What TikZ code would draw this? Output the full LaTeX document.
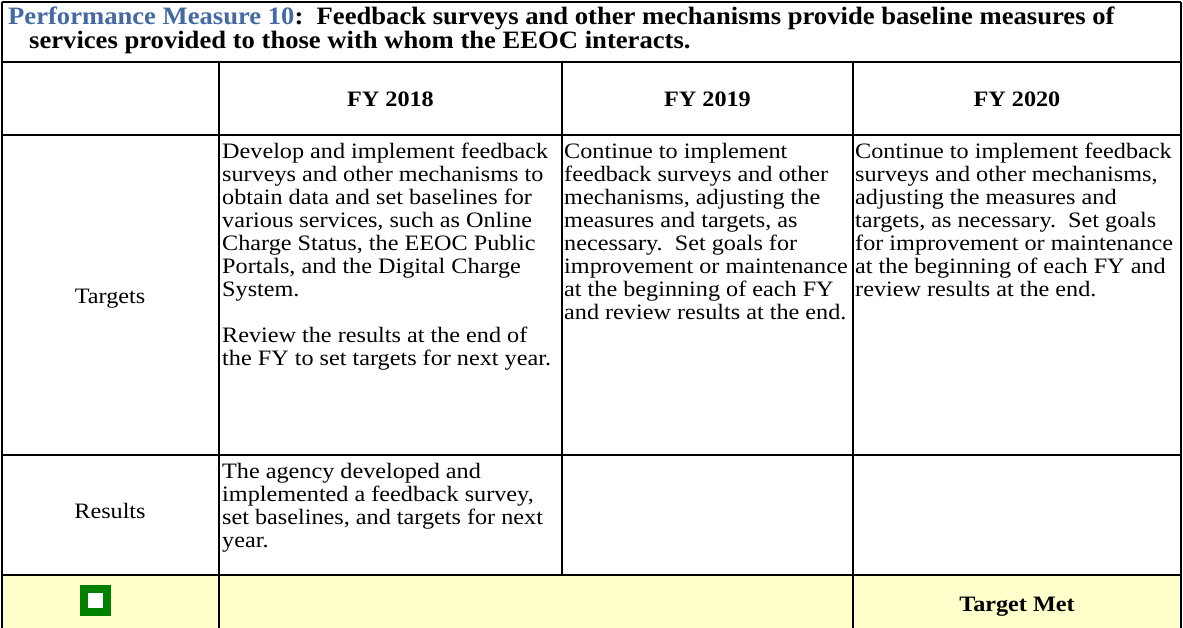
\documentclass[tikz,border=0pt]{standalone}
\usepackage{fontspec}
\setmainfont{Liberation Serif}[FakeStretch=1.1]
\newfontfamily\titlefont{Liberation Serif}[FakeStretch=1.065]
\definecolor{titleblue}{RGB}{68,105,163}
\definecolor{rowyellow}{RGB}{255,255,204}
\definecolor{markgreen}{RGB}{0,128,0}
\newcommand{\cellbody}{\fontsize{22}{23}\selectfont}
\newcommand{\celltext}[2]{\parbox[t]{#1pt}{\cellbody\raggedright #2}}
\tikzset{
  rule/.style={line width=2pt, black},
  titletext/.style={anchor=base west, inner sep=0pt, font=\titlefont\fontsize{25}{25}\selectfont\bfseries},
  headtext/.style={anchor=base, inner sep=0pt, font=\fontsize{22}{23}\selectfont\bfseries},
  labeltext/.style={anchor=base, inner sep=0pt, font=\fontsize{22}{23}\selectfont},
  celltxt/.style={anchor=base west, inner sep=0pt}
}
\begin{document}
\begin{tikzpicture}[x=1pt,y=-1pt]
\useasboundingbox (0,0) rectangle (1183,628);
\fill[white] (0,0) rectangle (1183,628);
% yellow status row
\fill[rowyellow] (2,575) rectangle (1181,628);
% grid
\draw[rule] (2,2) -- (1181,2);
\draw[rule] (2,2) -- (2,628);
\draw[rule] (1181,2) -- (1181,628);
\draw[rule] (2,62) -- (1181,62);
\draw[rule] (2,135) -- (1181,135);
\draw[rule] (2,455) -- (1181,455);
\draw[rule] (2,575) -- (1181,575);
\draw[rule] (219,62) -- (219,628);
\draw[rule] (562,62) -- (562,575);
\draw[rule] (853,62) -- (853,628);
% title
\node[titletext] (title1) at (8,25) {\textcolor{titleblue}{Performance Measure 10}:\ \ Feedback surveys and other mechanisms provide baseline measures of};
\node[titletext] (title2) at (29,49) {services provided to those with whom the EEOC interacts.};
% headers
\node[headtext] (h2018) at (390.5,107) {FY 2018};
\node[headtext] (h2019) at (707.5,107) {FY 2019};
\node[headtext] (h2020) at (1017,107) {FY 2020};
% row labels
\node[labeltext] (ltargets) at (110,303) {Targets};
\node[labeltext] (lresults) at (110,518) {Results};
% targets cells
\node[celltxt] (t2018) at (222,159) {\celltext{340}{Develop and implement feedback\\
surveys and other mechanisms to\\
obtain data and set baselines for\\
various services, such as Online\\
Charge Status, the EEOC Public\\
Portals, and the Digital Charge\\
System.\\[23pt]
Review the results at the end of\\
the FY to set targets for next year.}};
\node[celltxt] (t2019) at (564,159) {\celltext{290}{Continue to implement\\
feedback surveys and other\\
mechanisms, adjusting the\\
measures and targets, as\\
necessary.\ \ Set goals for\\
improvement or maintenance\\
at the beginning of each FY\\
and review results at the end.}};
\node[celltxt] (t2020) at (855,159) {\celltext{326}{Continue to implement feedback\\
surveys and other mechanisms,\\
adjusting the measures and\\
targets, as necessary.\ \ Set goals\\
for improvement or maintenance\\
at the beginning of each FY and\\
review results at the end.}};
% results cell
\node[celltxt] (r2018) at (222,478) {\celltext{340}{The agency developed and\\
implemented a feedback survey,\\
set baselines, and targets for next\\
year.}};
% status row
\node[draw=markgreen, line width=8pt, fill=white, minimum size=23pt, inner sep=0pt] (mark) at (95.5,600.5) {};
\node[headtext] (met) at (1017,611) {Target Met};
\end{tikzpicture}
\end{document}
